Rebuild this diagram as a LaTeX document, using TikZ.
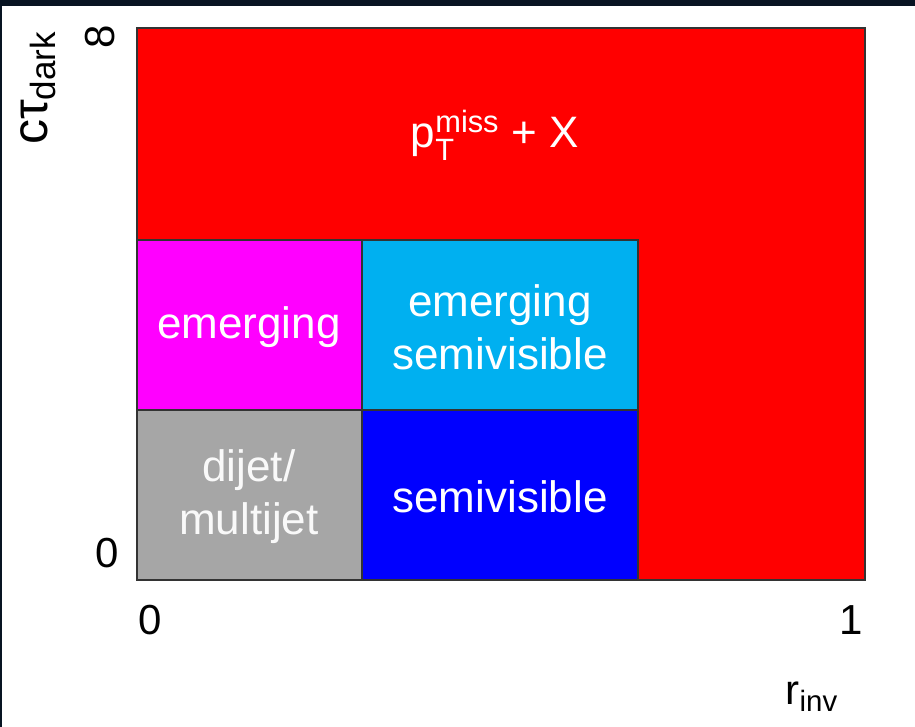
\documentclass[tikz,border=0pt]{standalone}
\usepackage{amsmath}
\usepackage{fontspec}
\setmainfont{Liberation Sans}
\usepackage{tikz}

\definecolor{regred}{RGB}{255,0,0}
\definecolor{regmagenta}{RGB}{255,0,255}
\definecolor{regcyan}{RGB}{0,176,240}
\definecolor{regblue}{RGB}{0,0,255}
\definecolor{reggray}{RGB}{166,166,166}
\definecolor{frame}{RGB}{8,20,34}

\tikzset{
  region/.style={draw=black!80, line width=0.8pt},
  regionlabel/.style={text=white, align=center, font=\fontsize{22}{26.5}\selectfont},
  axislabel/.style={text=black, font=\fontsize{21}{25}\selectfont}
}

\begin{document}
\begin{tikzpicture}[x=0.5pt, y=0.5pt]
        \useasboundingbox (0,0) rectangle (915,727);
        \fill[white] (0,0) rectangle (915,727);
        \fill[frame] (0,721) rectangle (915,727);
        \fill[frame] (0,0) rectangle (2,727);
        % regions
        \draw[region, fill=regred] (137,147) rectangle (865,699);
        \draw[region, fill=regmagenta] (137,317) rectangle (362,487);
        \draw[region, fill=regcyan] (362,317) rectangle (638,487);
        \draw[region, fill=reggray] (137,147) rectangle (362,317);
        \draw[region, fill=regblue] (362,147) rectangle (638,317);
        % labels
        \node[regionlabel] (ptmiss) at (495,592) {p$^{\text{miss}}_{\text{T}}$ + X};
        \node[regionlabel] (emerg) at (249,400) {emerging};
        \node[regionlabel] (emsemi) at (500,400) {emerging\\semivisible};
        \node[regionlabel, text=white!95!gray] (dijet) at (249,230) {dijet/\\multijet};
        \node[regionlabel] (semi) at (500,230) {semivisible};
        % axes
        \node[axislabel, rotate=90, font=\fontsize{25}{30}\selectfont] (ctau) at (38,639) {cτ$_{\text{dark}}$};
        \node[axislabel, rotate=90] (yinf) at (100,690) {8};
        \node[axislabel] (yzero) at (107,174) {0};
        \node[axislabel] (xzero) at (150,107) {0};
        \node[axislabel] (xone) at (851,107) {1};
        \node[axislabel] (rinv) at (812,30) {r$_{\text{inv}}$};
    \end{tikzpicture}
\end{document}
